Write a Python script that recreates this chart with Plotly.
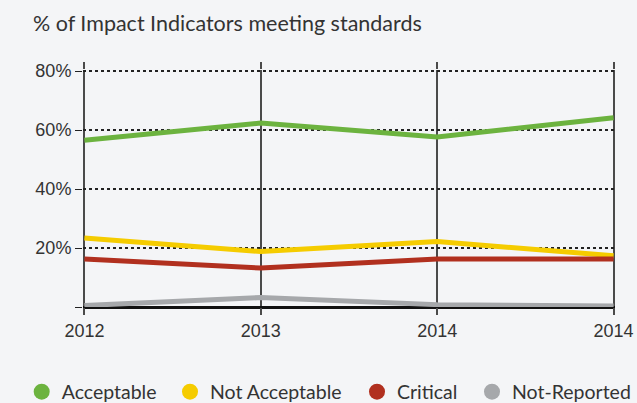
import plotly.graph_objects as go

years = ["2012", "2013", "2014", "2014"]
positions = [0, 1, 2, 3]
acceptable = [56.6, 62.4, 57.7, 64.2]
not_acceptable = [23.4, 18.8, 22.2, 17.4]
critical = [16.3, 13.2, 16.3, 16.3]
not_reported = [0.5, 3.2, 0.8, 0.3]

series_names = ["Acceptable", "Not Acceptable", "Critical", "Not-Reported"]
series_values = [acceptable, not_acceptable, critical, not_reported]
colors = ["#6cb33f", "#f5cc00", "#b1301f", "#a6a8ab"]

y_ticks = [0, 20, 40, 60, 80]
y_labels = ["", "20%", "40%", "60%", "80%"]

W, H = 637, 403
ML, MR, MT, MB = 83, 22, 70, 96
plot_w = W - ML - MR
legend_ids = ["legend", "legend2", "legend3", "legend4"]
legend_centers = [42.7, 191, 378, 493]

fig = go.Figure()
for name, vals, col in zip(series_names, series_values, colors):
    fig.add_trace(go.Scatter(x=positions, y=vals, mode="lines", name=name,
                             line=dict(color=col, width=5), showlegend=False,
                             hoverinfo="skip"))
for name, col, lid in zip(series_names, colors, legend_ids):
    fig.add_trace(go.Scatter(x=[None], y=[None], mode="markers", name=name,
                             marker=dict(color=col, size=16, symbol="circle"),
                             showlegend=True, legend=lid))

bg = "#f4f5f7"
legend_font = dict(family="Lato", size=19.5, color="#333333")
layout_legends = {}
for lid, cx in zip(legend_ids, legend_centers):
    layout_legends[lid] = dict(orientation="h", x=(cx - 21 - ML) / plot_w, xanchor="left",
                               y=-(392 - (H - MB)) / (H - MT - MB), yanchor="middle",
                               font=legend_font, bgcolor="rgba(0,0,0,0)",
                               itemclick=False, itemdoubleclick=False)

fig.update_layout(
    width=W, height=H,
    paper_bgcolor=bg, plot_bgcolor=bg,
    margin=dict(l=ML, r=MR, t=MT, b=MB, autoexpand=False),
    title=dict(text="% of Impact Indicators meeting standards",
               font=dict(family="Lato", size=21.5, color="#333333"),
               x=33/W, xanchor="left", xref="container",
               y=1-23/H, yanchor="middle", yref="container"),
    showlegend=True,
    xaxis=dict(range=[-0.008, 3.008], tickvals=positions, ticktext=years,
               showgrid=True, gridcolor="#4a4a4a", gridwidth=1.5,
               ticks="outside", ticklen=7, tickwidth=1.5, tickcolor="#4a4a4a",
               mirror="ticks", zeroline=False, showline=False,
               tickfont=dict(family="Arial, Liberation Sans, sans-serif", size=18, color="#333333"),
               layer="below traces", fixedrange=True),
    yaxis=dict(range=[0, 80.4], tickvals=y_ticks, ticktext=y_labels,
               showgrid=True, gridcolor="#222222", gridwidth=1.5, griddash="dot",
               ticks="outside", ticklen=7, tickwidth=1.2, tickcolor="#222222",
               zeroline=True, zerolinecolor="#111111", zerolinewidth=2.5,
               showline=False,
               tickfont=dict(family="Arial, Liberation Sans, sans-serif", size=18, color="#333333"),
               layer="below traces", fixedrange=True),
    **layout_legends,
)

fig.write_html("out.html", config={"displayModeBar": False},
               post_script="document.body.style.margin='0';document.body.style.overflow='hidden';")
